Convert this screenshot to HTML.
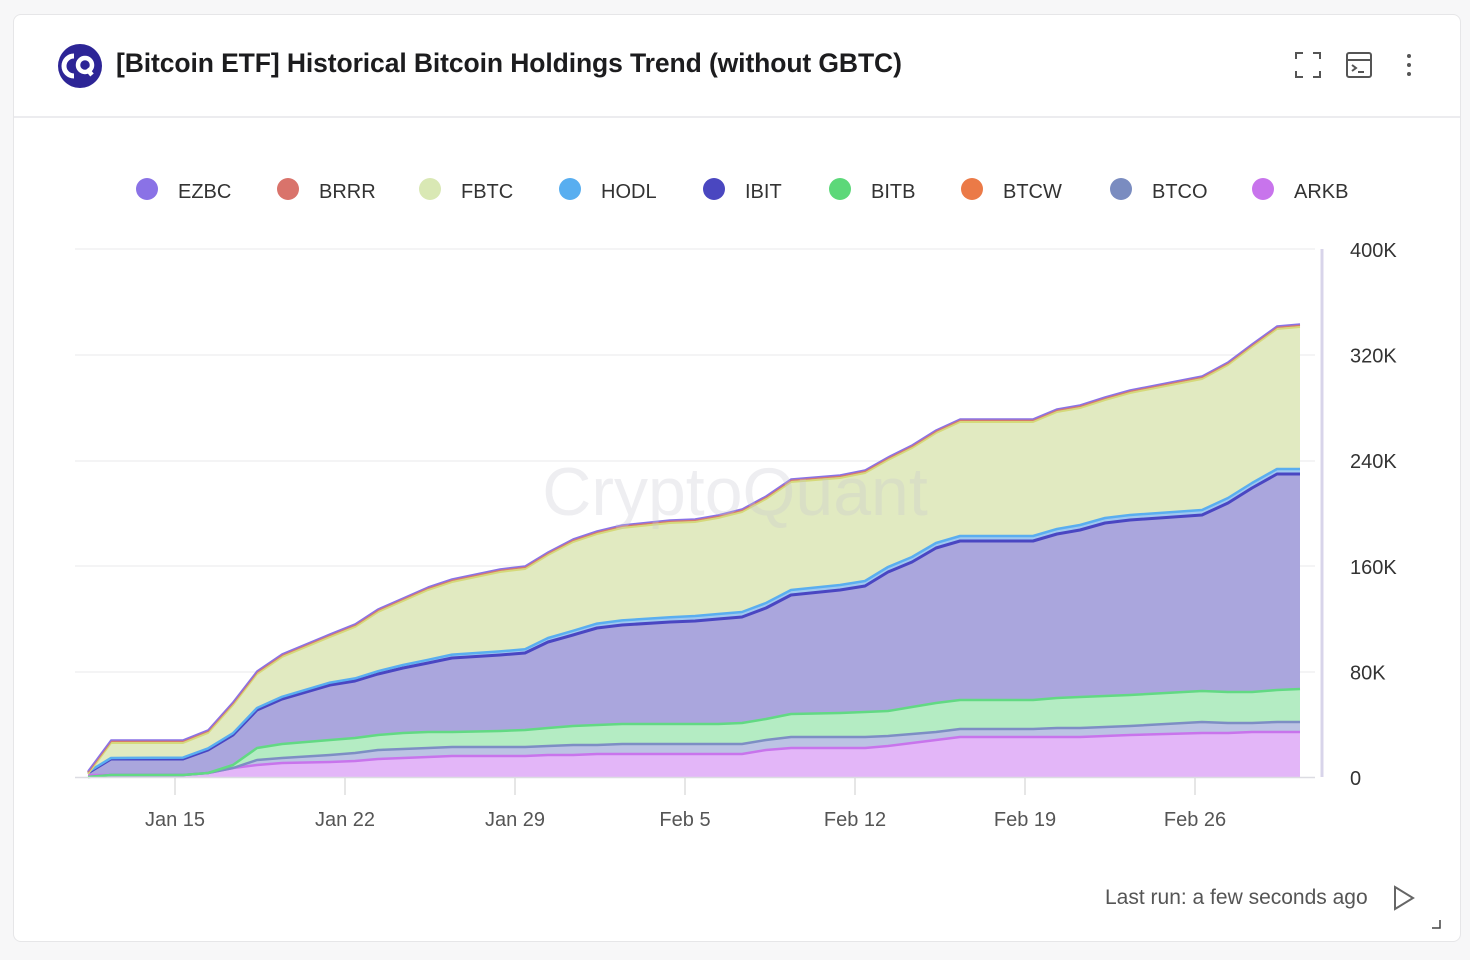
<!DOCTYPE html>
<html><head><meta charset="utf-8"><style>
body{margin:0;width:1470px;height:960px;background:#f7f7f8;font-family:"Liberation Sans",Arial,sans-serif;overflow:hidden}
.card{position:absolute;left:13px;top:14px;width:1446px;height:926px;background:#fff;border:1px solid #e6e6e8;border-radius:8px}
.hdr{position:absolute;left:0;top:0;width:100%;height:101px;border-bottom:2px solid #ececef}
.title{position:absolute;left:102px;top:33px;font-size:26.5px;font-weight:bold;color:#1c1c1e;letter-spacing:-0.1px}
</style></head><body>
<div class="card"><div class="hdr">
<svg style="position:absolute;left:43px;top:28px" width="46" height="46" viewBox="0 0 46 46"><circle cx="23" cy="23" r="22" fill="#2d2596"/><path d="M17 13a10 10 0 1 0 0 20" stroke="#fff" stroke-width="5" fill="none"/><circle cx="28" cy="22" r="7" stroke="#fff" stroke-width="4.5" fill="none"/><path d="M30 26l5 6" stroke="#fff" stroke-width="4.5"/></svg>
<div class="title">[Bitcoin ETF] Historical Bitcoin Holdings Trend (without GBTC)</div>
<svg style="position:absolute;left:1280px;top:36px" width="140" height="32"><g stroke="#555" stroke-width="2" fill="none"><path d="M2 8V2h7M19 2h7v6M26 20v6h-7M9 26H2v-6"/><rect x="53" y="2" width="24" height="24" rx="2"/><path d="M53 9h24M58 14l4 3-4 3M64 21h6"/></g><g fill="#555"><circle cx="115" cy="5" r="2"/><circle cx="115" cy="14" r="2"/><circle cx="115" cy="23" r="2"/></g></svg>
</div></div>
<svg id="c" style="position:absolute;left:0;top:0" width="1470" height="960"></svg>
<div style="position:absolute;left:1105px;top:886px;font-size:21px;color:#555">Last run: a few seconds ago</div>
<svg style="position:absolute;left:1392px;top:884px" width="50" height="50"><path d="M3 3l18 11-18 11z" fill="none" stroke="#666" stroke-width="2"/><path d="M40 44h8v-8" stroke="#444" stroke-width="1.5" fill="none"/></svg>
<script>
var X=[88,111,183,208,233,257,282,330,355,378,403,428,452,500,525,548,573,597,622,670,695,718,742,766,791,840,865,888,912,936,960,1033,1057,1080,1105,1130,1202,1228,1252,1277,1300];
var TOT=[772,741,741,731,703,672,655,635,625,610,599,588,580,570,567,553,540,532,526,521,520,516,510,497,480,476,471,458,446,431,420,420,410,406,398,391,377,363,345,327,325];
var IB=[773,759,759,750,735,710,699,685,681,674,668,663,658,655,653,642,635,628,625,622,621,619,617,608,595,590,586,572,562,548,541,541,534,530,523,520,515,503,488,474,474];
var BI=[777,775,775,773,765,748,744,740,738,735,733,732,732,731,730,728,726,725,724,724,724,724,723,719,714,713,712,711,707,703,700,700,698,697,696,695,691,692,692,690,689];
var BC=[777,775,775,773,768,760,758,755,753,750,749,748,747,747,747,746,745,745,744,744,744,744,744,740,737,737,737,736,734,732,729,729,728,728,727,726,722,723,723,722,722];
var AR=[775,775,775,773,768,765,763,762,761,759,758,757,756,756,756,755,755,754,754,754,754,754,754,750,748,748,748,746,743,740,737,737,737,737,736,735,733,733,732,732,732];
var HO=IB.map(function(v,i){return Math.min(v,v-(i<2?1:Math.min(5,1+i*0.2)))});
var s='';
function L(a){return a.map(function(v,i){return X[i]+','+v}).join(' ')}
function area(top,bot,fill){var p=L(top)+' '+bot.map(function(v,i){return X[i]+','+v}).reverse().join(' ');s+='<polygon points="'+p+'" fill="'+fill+'"/>'}
function line(a,c,w){s+='<polyline points="'+L(a)+'" fill="none" stroke="'+c+'" stroke-width="'+(w||2.5)+'" stroke-linejoin="round"/>'}
[249,355,461,566,672].forEach(function(y){s+='<line x1="75" x2="1315" y1="'+y+'" y2="'+y+'" stroke="#f0f0f2" stroke-width="1.5"/>'});
var Z=X.map(function(){return 777});
area(AR,Z,'#e3b6f8');area(BC,AR,'#bcc3e4');area(BI,BC,'#b4ecc3');area(IB,BI,'#aaa6dd');area(HO,IB,'#9fc8f0');area(TOT,HO,'#e1eac1');
line(AR,'#c874ec');line(BC,'#7d8ec4');line(BI,'#62d983');line(IB,'#4a46c2',3);line(HO,'#5aaef0');
line(TOT.map(function(v){return v+2}),'#d5d97a',2);line(TOT,'#d77a6c',2);line(TOT.map(function(v){return v-1}),'#8a72e6',1.5);
s+='<text x="735" y="515" font-size="68" fill="#c8c8d2" fill-opacity="0.3" text-anchor="middle" font-family="Liberation Sans">CryptoQuant</text>';
s+='<line x1="75" x2="1315" y1="777.5" y2="777.5" stroke="#dcdce2" stroke-width="1.5"/>';
s+='<line x1="1322" x2="1322" y1="249" y2="777" stroke="#d8d4ea" stroke-width="3"/>';
['400K','320K','240K','160K','80K','0'].forEach(function(t,i){s+='<text x="1350" y="'+(257+i*105.6)+'" font-size="20" fill="#333">'+t+'</text>'});
['Jan 15','Jan 22','Jan 29','Feb 5','Feb 12','Feb 19','Feb 26'].forEach(function(t,i){var x=175+i*170;s+='<line x1="'+x+'" x2="'+x+'" y1="778" y2="795" stroke="#ddd" stroke-width="1.5"/><text x="'+x+'" y="826" font-size="20" fill="#555" text-anchor="middle">'+t+'</text>'});
var lg=[['EZBC','#8a72e6',147],['BRRR','#d9736b',288],['FBTC','#d9e8b4',430],['HODL','#58aef0',570],['IBIT','#4a47c0',714],['BITB','#5cd879',840],['BTCW','#eb7a47',972],['BTCO','#7a8cc0',1121],['ARKB','#c874ec',1263]];
lg.forEach(function(l){s+='<circle cx="'+l[2]+'" cy="189" r="11" fill="'+l[1]+'"/><text x="'+(l[2]+31)+'" y="198" font-size="20" fill="#333">'+l[0]+'</text>'});
document.getElementById('c').innerHTML=s;
</script>
</body></html>
